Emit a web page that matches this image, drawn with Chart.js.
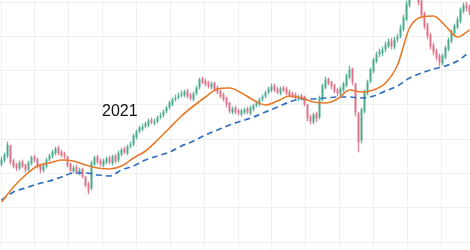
<!DOCTYPE html>
<html>
<head>
<meta charset="utf-8">
<script src="https://cdn.jsdelivr.net/npm/chart.js@4/dist/chart.umd.min.js"></script>
<style>
  html, body { margin: 0; padding: 0; background: #fff; }
  #wrap { position: relative; width: 470px; height: 250px; }
  #yearLabel {
    position: absolute; left: 102px; top: 103px;
    font-family: "Liberation Sans", Arial, sans-serif; font-size: 16px; line-height: 16px;
    color: #111;
  }
</style>
</head>
<body>
<div id="wrap">
  <canvas id="chart" width="470" height="250"></canvas>
  <div id="yearLabel">2021</div>
</div>
<script>
// daily candles, one per trading day
const opens = [78,82,86,96,81,77,74,80,77,73,79,85,83,77,72,76,83,86,89,94,90,88,85,78,71,75,69,73,65,58,
  54,78,85,81,77,80,84,79,86,82,88,93,89,96,98,105,111,113,116,117,122,119,121,125,127,131,135,138,143,145,
  147,147,151,147,143,149,155,163,161,159,155,159,154,151,147,144,139,130,134,131,128,130,133,129,133,137,138,143,146,150,
  152,156,153,149,154,153,150,148,147,143,146,145,137,125,120,128,125,143,155,163,160,157,152,148,152,157,165,173,158,128,
  102,131,149,161,171,181,188,189,193,196,201,195,203,206,213,223,237,247,253,249,241,228,217,207,197,191,186,179,185,193,
  201,209,215,221,231,237,235];
const highs = [85,89,100,97,83,79,81,82,78,81,86,87,84,78,79,84,88,92,95,96,92,90,86,79,76,77,74,74,66,60,
  81,86,87,83,83,85,86,87,88,91,94,95,97,100,108,112,116,118,120,123,124,123,126,129,132,136,141,144,147,149,
  151,152,153,149,150,156,164,165,163,161,160,160,156,152,149,145,140,135,136,133,133,134,135,136,138,141,144,147,151,155,
  158,158,155,155,156,155,152,150,149,147,148,146,138,127,129,130,146,158,165,164,161,158,154,155,160,168,176,174,159,130,
  134,152,162,174,184,190,193,195,200,203,204,205,208,217,227,241,252,256,256,251,243,230,219,209,199,193,188,188,196,204,
  212,218,225,234,239,240,237];
const lows = [76,80,84,78,74,71,72,74,70,71,77,80,74,69,70,74,81,84,87,87,85,83,75,70,69,68,67,64,55,48,
  52,76,78,76,75,78,78,77,79,80,86,88,87,94,96,103,109,111,114,115,118,117,119,123,125,129,133,136,141,143,
  145,145,144,142,141,147,153,158,156,154,153,151,148,144,141,135,129,128,128,127,126,128,128,127,131,135,136,141,144,148,
  150,150,148,147,150,147,145,144,142,141,142,136,121,118,118,120,123,141,153,157,153,149,146,146,150,155,163,157,126,90,
  99,129,147,159,169,179,185,186,190,194,193,193,200,204,211,221,235,244,246,237,224,213,203,193,187,182,176,177,183,191,
  199,207,213,219,229,231,227];
const closes = [82,87,97,80,76,74,79,76,72,79,84,82,76,72,76,82,86,90,93,89,87,86,77,72,74,70,72,66,57,52,
  79,84,80,78,81,83,80,85,81,89,92,90,95,97,106,110,114,115,118,121,120,120,124,126,130,134,139,142,144,146,
  148,150,146,144,148,154,162,160,158,156,158,153,150,146,143,138,131,133,130,129,131,132,130,134,136,139,142,145,149,153,
  155,152,150,153,152,149,147,146,144,145,144,138,124,121,127,124,144,156,162,159,156,151,149,153,158,166,172,160,130,100,
  132,150,160,172,182,187,190,192,197,200,196,202,205,214,224,238,248,252,248,240,227,216,206,196,190,185,180,186,194,202,
  210,216,222,232,236,234,230];

// moving averages, read every 4th day
const maDays = [0,4,8,12,16,20,24,28,32,36,40,44,48,52,56,60,64,68,72,76,80,84,88,92,96,100,
  104,108,112,116,120,124,128,132,136,140,144,148,152,156];
const maShort = [40,55,67,76,79,82,81,77,74,73,76,84,91,102,114,126,136,145,153,154,149,142,137,141,146,144,
  140,139,143,152,150,152,159,177,214,225,226,216,205,212];
const maLong = [42,50,54,58,61,65,69,69,67,66,72,76,82,86,90,96,101,107,112,117,121,125,130,135,140,143,
  143,144,145,145,144,146,151,156,164,169,173,176,181,190];

// grid positions
const gridDays = [5.5,16.78,28.07,39.35,50.63,61.92,73.2,84.48,95.76,107.05,118.33,129.61,140.9,152.18];
const gridPrices = [0,34.3,68.6,102.9,137.1,171.4,205.7,240];

const UP = 'rgba(72,168,140,0.85)';
const DOWN = 'rgba(222,112,134,0.85)';

const candleColor = ctx => {
  const i = ctx.dataIndex;
  return closes[i] >= opens[i] ? UP : DOWN;
};

const wickData = closes.map((c, i) => ({x: i, y: [lows[i], highs[i]]}));
const bodyData = closes.map((c, i) => ({x: i, y: [opens[i], c]}));

new Chart(document.getElementById('chart'), {
  type: 'bar',
  data: {
    datasets: [
      {
        type: 'line',
        data: maDays.map((d, i) => ({x: d, y: maShort[i]})),
        borderColor: '#e8792a',
        borderWidth: 1.6,
        pointRadius: 0,
        cubicInterpolationMode: 'monotone',
        order: 0
      },
      {
        type: 'line',
        data: maDays.map((d, i) => ({x: d, y: maLong[i]})),
        borderColor: '#2f6fc0',
        borderWidth: 1.7,
        borderDash: [6, 4],
        pointRadius: 0,
        cubicInterpolationMode: 'monotone',
        order: 1
      },
      {
        data: bodyData,
        backgroundColor: candleColor,
        barThickness: 1.3,
        minBarLength: 1,
        grouped: false,
        order: 2
      },
      {
        data: wickData,
        backgroundColor: candleColor,
        barThickness: 0.7,
        grouped: false,
        order: 3
      }
    ]
  },
  options: {
    responsive: false,
    animation: false,
    devicePixelRatio: 1,
    layout: { padding: 0 },
    plugins: { legend: { display: false }, tooltip: { enabled: false } },
    scales: {
      x: {
        type: 'linear',
        min: -0.5,
        max: 156.17,
        offset: false,
        afterBuildTicks: s => { s.ticks = gridDays.map(v => ({value: v})); },
        ticks: { display: false },
        grid: { color: '#f0f0f0', drawTicks: false, tickLength: 0 },
        border: { display: false }
      },
      y: {
        min: -8,
        max: 242,
        afterBuildTicks: s => { s.ticks = gridPrices.map(v => ({value: v})); },
        ticks: { display: false },
        grid: { color: '#f0f0f0', drawTicks: false, tickLength: 0 },
        border: { display: false }
      }
    }
  }
});
</script>
</body>
</html>
